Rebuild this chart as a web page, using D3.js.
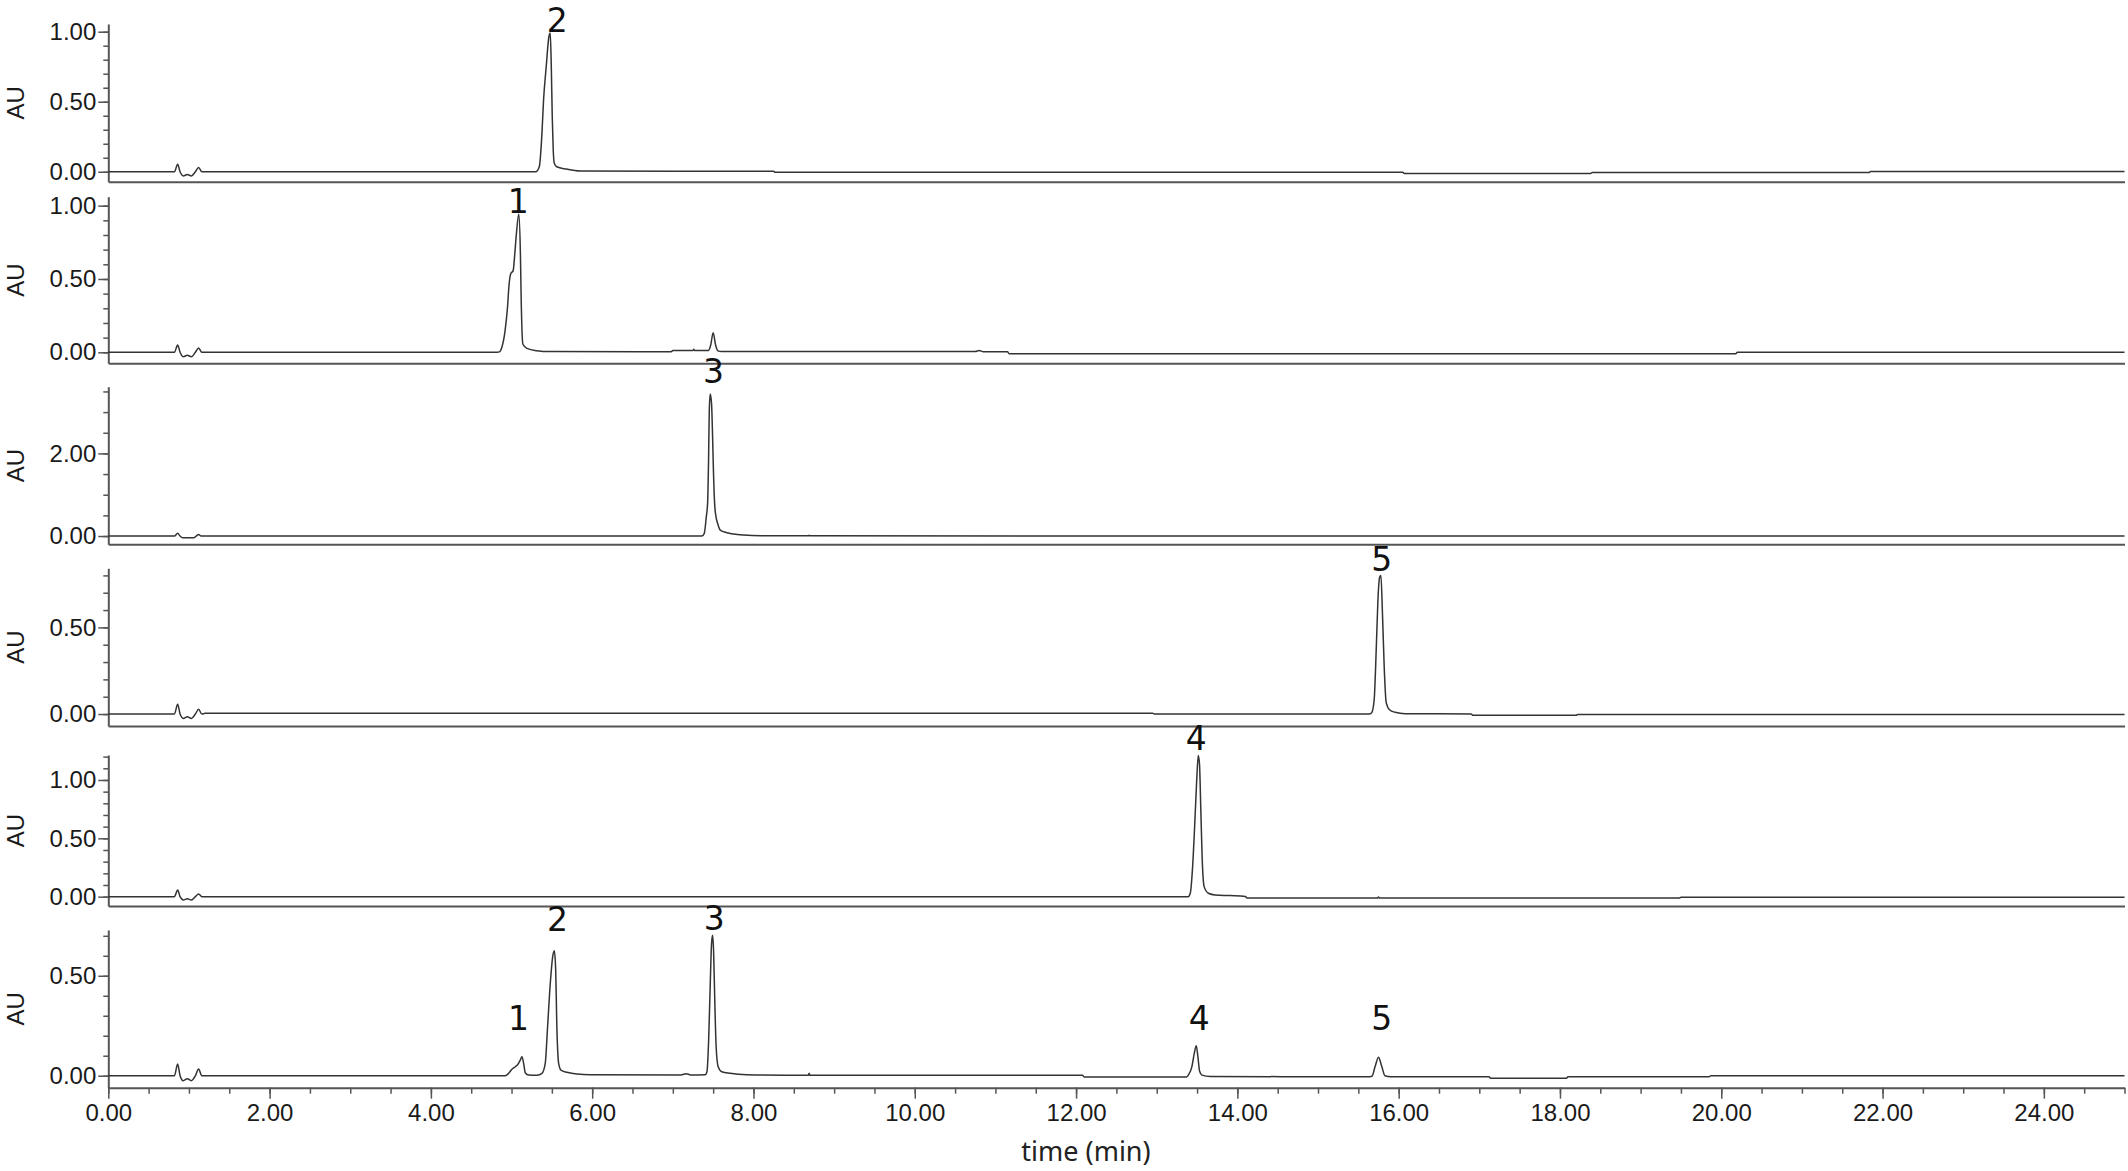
<!DOCTYPE html>
<html>
<head>
<meta charset="utf-8">
<script src="https://cdn.jsdelivr.net/npm/d3@7"></script>
<style>
body{margin:0;background:#fff;}
svg{display:block;}
.tick text{font-family:'Liberation Sans',Arial,sans-serif;font-size:24px;fill:#1a1a1a;}
</style>
</head>
<body>
<svg id="chart" width="2128" height="1171"></svg>
<script>
// ---- data (time in min, absorbance in AU) ----
const xTicks = [0,2,4,6,8,10,12,14,16,18,20,22,24];
const xDomain = [0,25];

const yDomains = [[-0.071,1.055],[-0.075,1.061],[-0.2,3.615],[-0.069,0.841],[-0.08,1.214],[-0.06,0.729]];
const yTicks = [[0,0.5,1],[0,0.5,1],[0,2],[0,0.5],[0,0.5,1],[0,0.5]];
const yMinorStep = [0.1,0.1,0.5,0.1,0.1,0.1];

// standard 2
const trace1 = [[0,0],[0.82,0],[0.86,0.053],[0.89,0],[0.93,-0.03],[0.98,-0.02],[1.03,-0.03],[1.08,0],[1.12,0.03],[1.16,0],[1.2,0],
  [5.30,0],[5.344,0.036],[5.377,0.274],[5.397,0.512],[5.43,0.75],[5.463,0.964],[5.48,0.99],[5.493,0.75],[5.505,0.39],
  [5.517,0.155],[5.53,0.06],[5.56,0.036],[5.68,0.019],[5.85,0.005],[8.25,0.003],[8.27,-0.004],[16.05,-0.004],[16.07,-0.012],
  [18.38,-0.012],[18.4,-0.005],[21.83,-0.005],[21.85,0.001],[25,0.001]];
// standard 1
const trace2 = [[0,0],[0.82,0],[0.86,0.05],[0.89,0],[0.93,-0.03],[0.98,-0.02],[1.03,-0.03],[1.08,0],[1.12,0.03],[1.16,0],[1.2,0],
  [4.82,0],[4.85,0.003],[4.88,0.034],[4.92,0.148],[4.95,0.307],[4.97,0.466],[4.99,0.535],[5.02,0.557],[5.04,0.67],[5.06,0.807],
  [5.09,0.943],[5.11,0.67],[5.12,0.352],[5.14,0.057],[5.19,0.027],[5.31,0.011],[5.48,0.005],[6.98,0.004],[7.0,0.012],[7.25,0.012],
  [7.26,0.02],[7.27,0.012],[7.44,0.012],[7.47,0.05],[7.50,0.134],[7.53,0.05],[7.56,0.01],[7.6,0.005],[10.75,0.005],[10.8,0.012],
  [10.85,0.004],[11.15,0.004],[11.17,-0.01],[20.18,-0.01],[20.2,0],[25,0]];
// standard 3
const trace3 = [[0,0],[0.82,0],[0.86,0.065],[0.89,0],[0.92,-0.04],[1.06,-0.04],[1.09,0],[1.12,0.04],[1.15,0],[1.2,0],
  [7.36,0],[7.39,0.065],[7.415,0.47],[7.431,0.79],[7.443,1.84],[7.452,3.05],[7.464,3.44],[7.48,3.21],[7.493,2.4],[7.50,1.84],
  [7.518,0.79],[7.535,0.47],[7.555,0.31],[7.588,0.145],[7.67,0.08],[7.753,0.048],[7.877,0.024],[8.1,0.008],[8.68,0.005],
  [8.69,0.02],[8.70,0.005],[25,0]];
// standard 5
const trace4 = [[0,0],[0.82,0],[0.86,0.056],[0.89,0],[0.93,-0.025],[0.98,-0.015],[1.03,-0.025],[1.08,0],[1.12,0.027],[1.16,0],
  [1.2,0.004],[12.95,0.004],[12.97,0],[15.64,0],[15.668,0.01],[15.697,0.087],[15.722,0.375],[15.743,0.66],[15.764,0.79],
  [15.78,0.80],[15.80,0.567],[15.82,0.28],[15.845,0.067],[15.886,0.025],[15.956,0.01],[16.08,0.002],[16.9,0],[16.92,-0.007],
  [18.2,-0.007],[18.22,-0.002],[25,-0.002]];
// standard 4
const trace5 = [[0,0],[0.82,0],[0.86,0.057],[0.89,0],[0.93,-0.028],[0.98,-0.018],[1.03,-0.028],[1.08,0],[1.12,0.023],[1.16,0],
  [1.2,0],[13.39,0],[13.416,0.03],[13.445,0.257],[13.47,0.6],[13.494,0.97],[13.515,1.21],[13.53,1.14],[13.547,0.74],
  [13.563,0.34],[13.588,0.086],[13.641,0.029],[13.724,0.014],[13.91,0.009],[14.1,0.002],[14.12,-0.011],[15.74,-0.011],
  [15.75,-0.002],[15.76,-0.011],[19.48,-0.011],[19.5,-0.004],[25,-0.004]];
// mixture
const trace6 = [[0,0],[0.82,0],[0.86,0.058],[0.89,0],[0.93,-0.025],[0.98,-0.015],[1.03,-0.025],[1.08,0],[1.12,0.033],[1.16,0],
  [1.2,0],[4.923,0],[4.964,0.012],[5.005,0.032],[5.046,0.045],[5.075,0.055],[5.108,0.078],[5.129,0.095],[5.15,0.062],
  [5.17,0.015],[5.212,0.003],[5.315,0.002],[5.377,0.012],[5.418,0.062],[5.447,0.245],[5.48,0.46],[5.51,0.595],[5.53,0.625],
  [5.546,0.545],[5.563,0.228],[5.584,0.062],[5.613,0.028],[5.687,0.017],[5.81,0.008],[5.976,0.005],[7.1,0.004],[7.167,0.01],
  [7.22,0.004],[7.402,0.005],[7.423,0.02],[7.444,0.178],[7.464,0.46],[7.48,0.66],[7.493,0.703],[7.505,0.628],[7.52,0.378],
  [7.537,0.145],[7.562,0.045],[7.607,0.02],[7.71,0.012],[7.917,0.005],[8.68,0.002],[8.69,0.012],[8.70,0.002],[12.08,0.002],
  [12.1,-0.006],[13.37,-0.006],[13.395,0.005],[13.437,0.047],[13.466,0.113],[13.49,0.15],[13.51,0.097],[13.532,0.022],
  [13.56,0.003],[13.664,-0.004],[15.64,-0.005],[15.668,-0.003],[15.709,0.047],[15.75,0.092],[15.79,0.047],[15.83,0],
  [15.9,-0.005],[17.12,-0.005],[17.14,-0.013],[18.08,-0.013],[18.1,-0.005],[19.85,-0.005],[19.87,0],[25,0]];

const traces = [trace1,trace2,trace3,trace4,trace5,trace6];

// peak numbers: text, time, AU at the foot of the digit
const labels1 = [['2',5.567,1.0]];
const labels2 = [['1',5.084,0.948]];
const labels3 = [['3',7.505,3.70]];
const labels4 = [['5',15.79,0.827]];
const labels5 = [['4',13.49,1.257]];
const labels6 = [['1',5.087,0.229],['2',5.57,0.725],['3',7.514,0.728],['4',13.527,0.229],['5',15.79,0.229]];
const peakLabels = [labels1,labels2,labels3,labels4,labels5,labels6];

// ---- layout ----
const panelTop    = [24,196.7,386.7,568.3,755,930];
const panelBottom = [181.7,363.3,544.3,726,906,1087.7];
const left = 108.3, right = 2124.5;

const svg = d3.select('#chart');

const x = d3.scaleLinear().domain(xDomain).range([left,right]);

function drawPanel(i){
  const y = d3.scaleLinear().domain(yDomains[i]).range([panelBottom[i],panelTop[i]]);
  const g = svg.append('g').attr('class','panel');

  // minor y ticks
  const minor = d3.range(0, yDomains[i][1]+1e-9, yMinorStep[i]).map(function(v){ return +v.toFixed(3); });
  g.append('g')
    .attr('transform','translate(' + left + ',0)')
    .call(d3.axisLeft(y).tickValues(minor).tickSize(5).tickSizeOuter(0).tickFormat(''))
    .call(function(a){ a.select('.domain').remove(); })
    .selectAll('line').attr('stroke','#555').attr('stroke-width',1.5);

  // major y ticks + axis line
  const ya = g.append('g')
    .attr('transform','translate(' + left + ',0)')
    .call(d3.axisLeft(y).tickValues(yTicks[i]).tickSize(10).tickSizeOuter(0).tickPadding(2).tickFormat(d3.format('.2f')));
  ya.select('.domain').attr('stroke','#555').attr('stroke-width',2);
  ya.selectAll('.tick line').attr('stroke','#555').attr('stroke-width',1.5);

  // bottom line of the panel
  const xa = g.append('g')
    .attr('transform','translate(0,' + panelBottom[i] + ')');
  if(i == 5){
    xa.call(d3.axisBottom(x).tickValues(d3.range(0,25.01,0.5)).tickSize(6).tickSizeOuter(0).tickFormat(''))
      .selectAll('.tick line').attr('stroke','#555').attr('stroke-width',1.5);
    const xm = g.append('g')
      .attr('transform','translate(0,' + panelBottom[i] + ')')
      .call(d3.axisBottom(x).tickValues(xTicks).tickSize(11).tickSizeOuter(0).tickPadding(5).tickFormat(d3.format('.2f')));
    xm.select('.domain').remove();
    xm.selectAll('.tick line').attr('stroke','#555').attr('stroke-width',1.5);
  }else{
    xa.call(d3.axisBottom(x).tickValues([]).tickSizeOuter(0));
  }
  xa.select('.domain').attr('stroke','#555').attr('stroke-width',2);

  // AU label
  g.append('text')
    .attr('transform','translate(24,' + ((panelTop[i]+panelBottom[i])/2) + ') rotate(-90)')
    .attr('text-anchor','middle')
    .style('font-family',"'Liberation Sans',Arial,sans-serif")
    .style('font-size','24px')
    .style('fill','#1a1a1a')
    .text('AU');

  // trace
  const line = d3.line()
    .x(function(d){ return x(d[0]); })
    .y(function(d){ return y(d[1]); })
    .curve(d3.curveMonotoneX);
  g.append('path')
    .datum(traces[i])
    .attr('d',line)
    .attr('fill','none')
    .attr('stroke','#333')
    .attr('stroke-width',1.5)
    .attr('stroke-linejoin','round');

  // peak numbers
  g.selectAll('.peak-label')
    .data(peakLabels[i])
    .enter()
    .append('text')
    .attr('class','peak-label')
    .attr('x',function(d){ return x(d[1]); })
    .attr('y',function(d){ return y(d[2]); })
    .attr('text-anchor','middle')
    .style('font-family',"'DejaVu Sans',sans-serif")
    .style('font-size','33px')
    .style('fill','#111')
    .text(function(d){ return d[0]; });
}

for(let i=0;i<6;i++){ drawPanel(i); }

svg.append('text')
  .attr('x',1086)
  .attr('y',1161)
  .attr('text-anchor','middle')
  .style('font-family',"'Noto Sans',sans-serif")
  .style('font-size','27px')
  .style('fill','#222')
  .text('time (min)');
</script>
</body>
</html>
